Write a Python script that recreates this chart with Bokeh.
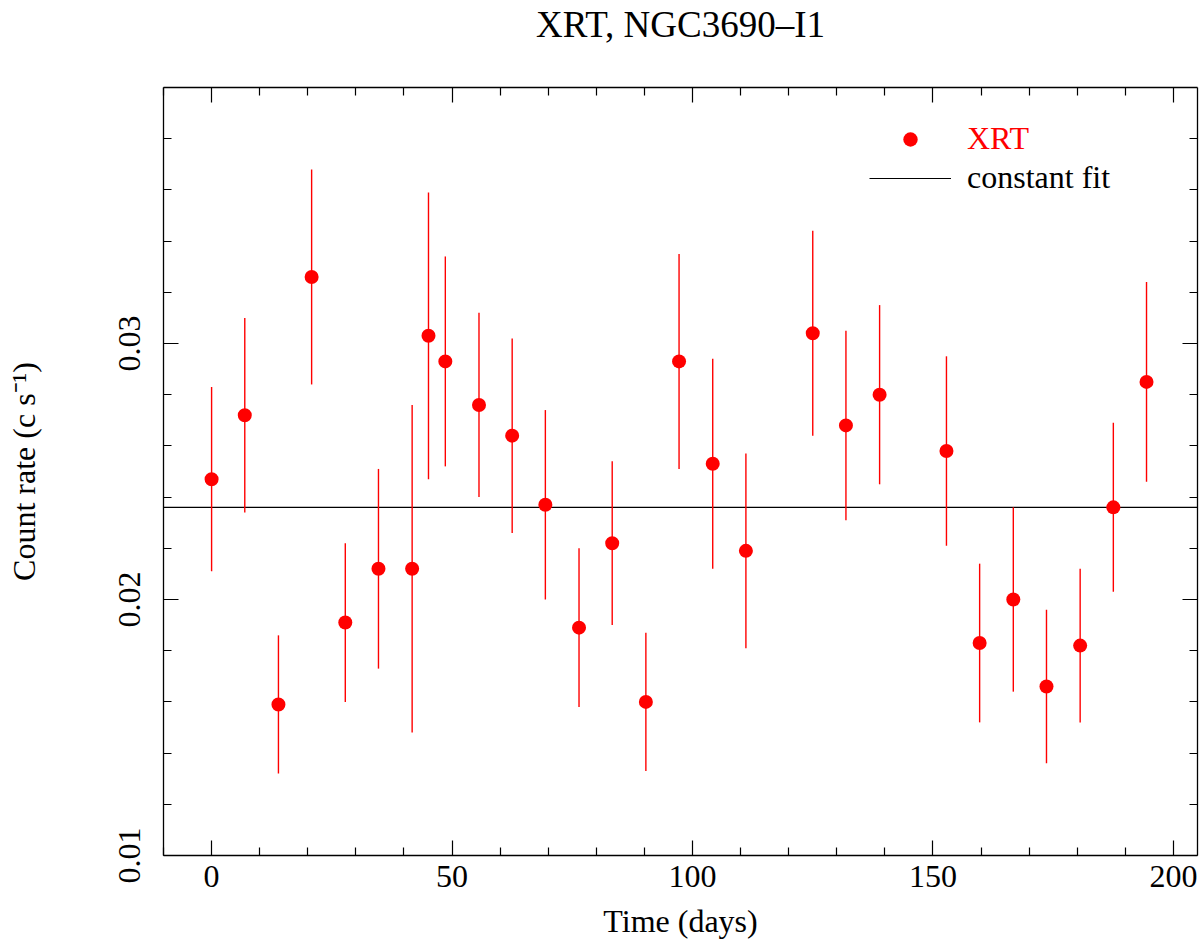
from bokeh.plotting import figure
from bokeh.models import (LinearAxis, FixedTicker, Legend, LegendItem, Range1d)
from bokeh.embed import file_html
from bokeh.resources import INLINE

# ---------------- data ----------------
time_days = [0.0, 6.9, 13.9, 20.8, 27.8, 34.7, 41.7, 45.1, 48.6, 55.6,
             62.5, 69.4, 76.4, 83.3, 90.3, 97.2, 104.2, 111.1, 125.0, 131.9,
             138.9, 152.8, 159.7, 166.7, 173.6, 180.6, 187.5, 194.4]
count_rate = [0.0247, 0.0272, 0.0159, 0.0326, 0.0191, 0.0212, 0.0212, 0.0303, 0.0293, 0.0276,
              0.0264, 0.0237, 0.0189, 0.0222, 0.0160, 0.0293, 0.0253, 0.0219, 0.0304, 0.0268,
              0.0280, 0.0258, 0.0183, 0.0200, 0.0166, 0.0182, 0.0236, 0.0285]
rate_err = [0.0036, 0.0038, 0.0027, 0.0042, 0.0031, 0.0039, 0.0064, 0.0056, 0.0041, 0.0036,
            0.0038, 0.0037, 0.0031, 0.0032, 0.0027, 0.0042, 0.0041, 0.0038, 0.0040, 0.0037,
            0.0035, 0.0037, 0.0031, 0.0036, 0.0030, 0.0030, 0.0033, 0.0039]
constant_fit = 0.0236

x_limits = (-10, 205)
y_limits = (0.01, 0.04)
x_major_ticks = [0, 50, 100, 150, 200]
x_minor_ticks = [-10, 10, 20, 30, 40, 60, 70, 80, 90, 110, 120, 130, 140,
                 160, 170, 180, 190]
y_major_ticks = [0.01, 0.02, 0.03]
y_tick_labels = ["0.01", "0.02", "0.03"]
y_minor_ticks = [0.012, 0.014, 0.016, 0.018, 0.022, 0.024, 0.026, 0.028,
                 0.032, 0.034, 0.036, 0.038]

title_text = "XRT, NGC3690\u2013I1"
x_label = "Time (days)"
y_label = "Count rate (c s\u207b\u00b9)"
series_label = "XRT"
fit_label = "constant fit"

FONT = "Liberation Serif"
RED = "#ff0000"

# ---------------- figure ----------------
p = figure(width=1200, height=943, output_backend="svg", toolbar_location=None,
           title=None,
           x_range=Range1d(*x_limits), y_range=Range1d(*y_limits),
           min_border_left=163, min_border_right=3, min_border_top=87,
           min_border_bottom=88, x_axis_location=None, y_axis_location=None)
p.outline_line_color = None
p.xgrid.visible = False
p.ygrid.visible = False
p.background_fill_color = "white"
p.border_fill_color = "white"

xt = FixedTicker(ticks=x_major_ticks, minor_ticks=x_minor_ticks)
yt = FixedTicker(ticks=y_major_ticks, minor_ticks=y_minor_ticks)


def style_axis(ax, labelled):
    ax.axis_line_color = "black"
    ax.axis_line_width = 1.3
    ax.major_tick_line_color = "black"
    ax.minor_tick_line_color = "black"
    ax.major_tick_line_width = 1.2
    ax.minor_tick_line_width = 1.2
    ax.major_tick_in = 15
    ax.major_tick_out = 0
    ax.minor_tick_in = 8
    ax.minor_tick_out = 0
    if labelled:
        ax.major_label_text_font = FONT
        ax.major_label_text_font_size = "32px"
        ax.major_label_text_color = "black"
        ax.axis_label_text_font = FONT
        ax.axis_label_text_font_size = "32px"
        ax.axis_label_text_font_style = "normal"
        ax.axis_label_text_color = "black"
    else:
        ax.major_label_text_color = None
        ax.major_label_text_font_size = "1px"
        ax.major_label_standoff = 0


xb = LinearAxis(ticker=xt, axis_label=x_label)
style_axis(xb, True)
xb.major_label_standoff = 10
xb.axis_label_standoff = 13
p.add_layout(xb, "below")

yl = LinearAxis(ticker=yt, axis_label=y_label)
style_axis(yl, True)
yl.major_label_overrides = {v: s for v, s in zip(y_major_ticks, y_tick_labels)}
yl.major_label_orientation = "vertical"
yl.major_label_standoff = 24
yl.axis_label_standoff = 74
p.add_layout(yl, "left")

# top frame edge with ticks; its (outer) axis label carries the chart title
xtop = LinearAxis(ticker=xt, axis_label=title_text)
style_axis(xtop, False)
xtop.axis_label_text_font = FONT
xtop.axis_label_text_font_size = "37px"
xtop.axis_label_text_font_style = "normal"
xtop.axis_label_text_color = "black"
xtop.axis_label_standoff = 43
p.add_layout(xtop, "above")

yr = LinearAxis(ticker=yt)
style_axis(yr, False)
p.add_layout(yr, "right")

# ---------------- glyphs ----------------
lower = [r - e for r, e in zip(count_rate, rate_err)]
upper = [r + e for r, e in zip(count_rate, rate_err)]

fit_line = p.line(x=list(x_limits), y=[constant_fit, constant_fit],
                  line_color="black", line_width=1.2)
p.segment(x0=time_days, y0=lower, x1=time_days, y1=upper,
          line_color=RED, line_width=1.4)
pts = p.scatter(x=time_days, y=count_rate, size=14, marker="circle",
                fill_color=RED, line_color=RED, line_width=0)

leg_common = dict(padding=0, margin=0, border_line_color=None,
                  background_fill_alpha=0, glyph_width=82, glyph_height=36,
                  label_height=36, label_standoff=16,
                  label_text_font=FONT, label_text_font_size="32px")

leg1 = Legend(items=[LegendItem(label=series_label, renderers=[pts])],
              location=(706, 698), label_text_color=RED, **leg_common)
leg2 = Legend(items=[LegendItem(label=fit_label, renderers=[fit_line])],
              location=(706, 659), label_text_color="black", **leg_common)
p.add_layout(leg1)
p.add_layout(leg2)

open("out.html", "w").write(file_html(p, INLINE))
